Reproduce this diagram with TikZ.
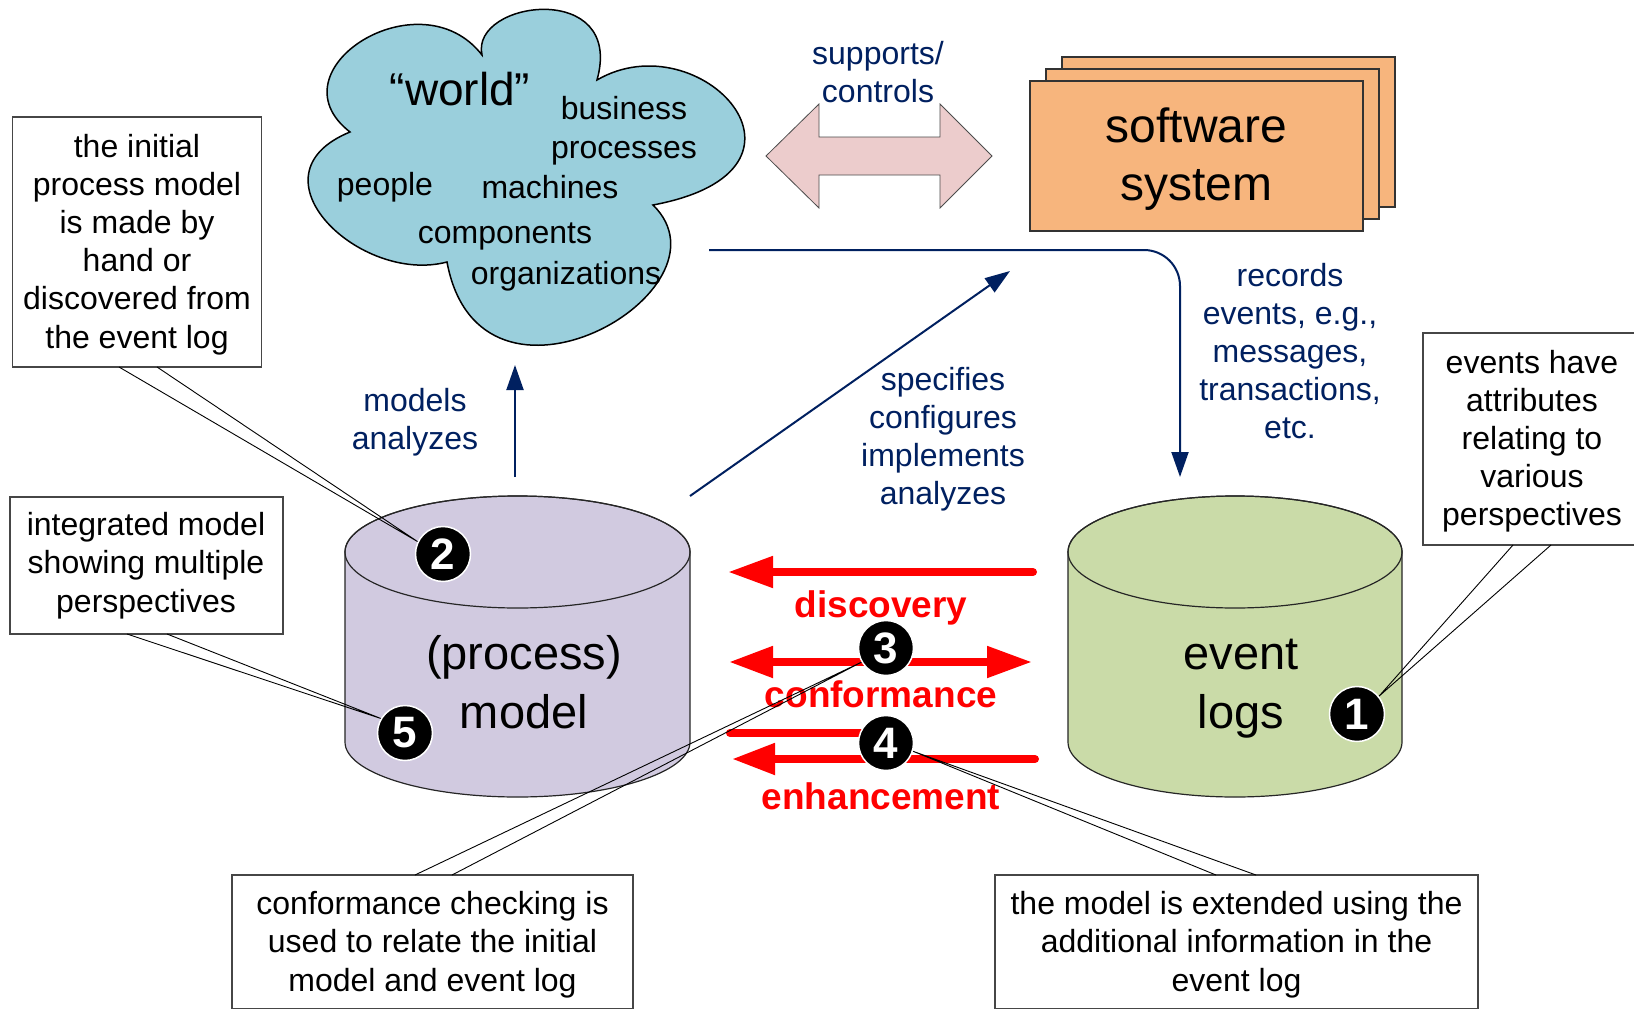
\documentclass[tikz,border=0pt]{standalone}
\usepackage{fontspec}
\setmainfont{Liberation Sans}
\usetikzlibrary{arrows.meta,calc}
\pgfdeclarelayer{front}
\pgfsetlayers{main,front}
\definecolor{navy}{RGB}{0,32,96}
\definecolor{cloudblue}{RGB}{154,207,220}
\definecolor{swo}{RGB}{247,181,125}
\definecolor{pinkarr}{RGB}{236,204,204}
\definecolor{purp}{RGB}{209,202,224}
\definecolor{grn}{RGB}{202,219,168}
\definecolor{bordergray}{RGB}{70,70,70}
\tikzset{
  callout/.style={draw=bordergray, line width=1.2pt, fill=white, align=center, inner sep=0pt, font=\fontsize{32}{38.4}\selectfont},
  navylbl/.style={text=navy, align=center, inner sep=0pt, font=\fontsize{32}{38}\selectfont},
  cloudword/.style={inner sep=0pt, anchor=base, font=\fontsize{32}{38}\selectfont},
  redlbl/.style={text=red, inner sep=0pt, anchor=base, font=\bfseries\fontsize{37}{44}\selectfont},
  badge/.style={circle, fill=black, draw=white, line width=1.5pt, minimum size=55pt, inner sep=0pt, text=white, font=\bfseries\fontsize{44}{44}\selectfont},
  navyarrow/.style={draw=navy, line width=2pt, -{Triangle[length=25pt,width=17pt]}},
  redline/.style={draw=red, line width=8pt, line cap=round},
  tail/.style={draw=black, line width=0.9pt},
  cylline/.style={draw=black!85, line width=1.2pt},
  swbox/.style={draw=black!80, line width=1.2pt, fill=swo, minimum width=333pt, minimum height=150pt, inner sep=0pt},
  cyltext/.style={align=center, inner sep=0pt, font=\fontsize{47}{59}\selectfont},
}
\begin{document}
\begin{tikzpicture}[x=1pt,y=-1pt]
\useasboundingbox[fill=white] (0,0) rectangle (1634,1009);

% ---------- cloud ----------
\draw[fill=cloudblue, draw=black, line width=1.5pt]
  (350,132) .. controls (270,70) and (420,-25) .. (482,55)
  .. controls (470,0) and (625,-20) .. (597,80)
  .. controls (700,20) and (840,170) .. (653,205)
  .. controls (740,290) and (480,440) .. (447,262)
  .. controls (360,285) and (245,175) .. (350,132) -- cycle;
\node[inner sep=0pt, anchor=base, font=\fontsize{46}{50}\selectfont] (world) at (460,105) {“world”};
\node[cloudword] (business) at (624,119) {business};
\node[cloudword] (processes) at (624,158) {processes};
\node[cloudword] (people) at (385,195) {people};
\node[cloudword] (machines) at (550,198) {machines};
\node[cloudword] (components) at (505,243) {components};
\node[cloudword] (organizations) at (566,284) {organizations};

% ---------- supports/controls double arrow ----------
\draw[fill=pinkarr, draw=black!70, line width=0.8pt]
  (766,156) -- (819,104) -- (819,137) -- (940,137) -- (940,104) -- (992,156)
  -- (940,208) -- (940,175) -- (819,175) -- (819,208) -- cycle;
\node[navylbl] (supports) at (878,76) {\strut supports/\\controls\strut};

% ---------- software system ----------
\node[swbox] (swback) at (1228.5,132) {};
\node[swbox] (swmid) at (1212.5,144) {};
\node[swbox, align=center, font=\fontsize{48}{58}\selectfont] (sw) at (1196.5,156) {};
\node[align=center, inner sep=0pt, font=\fontsize{48}{58}\selectfont] (swtext) at (1196.5,160) {\strut software\\system\strut};

% ---------- cylinders ----------
\path[fill=purp, cylline] (345,552) -- (345,742)
  arc[start angle=180, end angle=360, x radius=172.5pt, y radius=55pt]
  -- (690,552)
  arc[start angle=0, end angle=180, x radius=172.5pt, y radius=56pt] -- cycle;
\draw[cylline] (517.5,552) ellipse[x radius=172.5pt, y radius=56pt];
\node[cyltext] (pm) at (524,687) {\strut(process)\\model\strut};

\path[fill=grn, cylline] (1068,552) -- (1068,742)
  arc[start angle=180, end angle=360, x radius=167pt, y radius=55pt]
  -- (1402,552)
  arc[start angle=0, end angle=180, x radius=167pt, y radius=56pt] -- cycle;
\draw[cylline] (1235,552) ellipse[x radius=167pt, y radius=56pt];
\node[cyltext] (el) at (1241,687) {\strut event\\logs\strut};

% ---------- navy arrows ----------
\coordinate (upS) at (515,477);
\coordinate (upE) at (515,365);
\coordinate (diagS) at (690,496);
\coordinate (diagE) at (1010,271);
\coordinate (recS) at (709,250);
\coordinate (recC) at (1180,250);
\coordinate (recE) at (1180,477);
\draw[navyarrow] (upS) -- (upE);
\draw[navyarrow] (diagS) -- (diagE);
\draw[navyarrow, rounded corners=36pt] (recS) -- (recC) -- (recE);
\node[navylbl] (models) at (415,423) {\strut models\\analyzes\strut};
\node[navylbl] (specifies) at (943,440) {\strut specifies\\configures\\implements\\analyzes\strut};
\node[navylbl] (records) at (1290,355) {\strut records\\events, e.g.,\\messages,\\transactions,\\etc.\strut};

% ---------- red arrows ----------
\coordinate (discR) at (1033,572);
\coordinate (discL) at (728,572);
\coordinate (confL) at (729,662);
\coordinate (confR) at (1032,662);
\coordinate (enhA) at (730,733);
\coordinate (enhB) at (880,733);
\coordinate (enhR) at (1035,759);
\coordinate (enhL) at (732,759);
\draw[redline, -{Triangle[length=45pt,width=30pt]}] (discR) -- (discL);
\draw[redline, {Triangle[length=44pt,width=30pt]}-{Triangle[length=45pt,width=30pt]}] (confL) -- (confR);
\draw[redline] (enhA) -- (enhB);
\draw[redline, -{Triangle[length=43pt,width=30pt]}] (enhR) -- (enhL);
\node[redlbl] (discovery) at (881,617) {discovery};
\node[redlbl] (conformance) at (881,707) {conformance};
\node[redlbl] (enhancement) at (881,809) {enhancement};

% ---------- callouts ----------
\node[callout, minimum width=249pt, minimum height=250pt] (cA) at (137,242) {};
\node[align=center, inner sep=0pt, font=\fontsize{32}{38.2}\selectfont] (cAtext) at (137,245)
  {\strut the initial\\process model\\is made by\\hand or\\discovered from\\the event log\strut};
\node[callout, minimum width=273pt, minimum height=137pt] (cB) at (146.5,565.5) {};
\node[align=center, inner sep=0pt, font=\fontsize{32}{38.5}\selectfont] (cBtext) at (146,566)
  {\strut integrated model\\showing multiple\\perspectives\strut};
\node[callout, minimum width=218pt, minimum height=212pt] (cC) at (1532,439) {};
\node[align=center, inner sep=0pt, font=\fontsize{32}{38}\selectfont] (cCtext) at (1532,442)
  {\strut events have\\attributes\\relating to\\various\\perspectives\strut};
\node[callout, minimum width=401pt, minimum height=134pt] (cD) at (432.5,942) {};
\node[align=center, inner sep=0pt, font=\fontsize{32}{38.4}\selectfont] (cDtext) at (432.5,945)
  {\strut conformance checking is\\used to relate the initial\\model and event log\strut};
\node[callout, minimum width=483pt, minimum height=134pt] (cE) at (1236.5,942) {};
\node[align=center, inner sep=0pt, font=\fontsize{32}{38.4}\selectfont] (cEtext) at (1236.5,945)
  {\strut the model is extended using the\\additional information in the\\event log\strut};

% ---------- badges (front layer) ----------
\begin{pgfonlayer}{front}
\node[badge] (b1) at (1357,714) {1};
\node[badge] (b2) at (443,554) {2};
\node[badge] (b3) at (886,648) {3};
\node[badge] (b4) at (886,743) {4};
\node[badge] (b5) at (405,733) {5};
\end{pgfonlayer}

% ---------- callout tails ----------
\coordinate (tA1) at (119,367);
\coordinate (tA2) at (157,367);
\coordinate (tB1) at (127,634);
\coordinate (tB2) at (167,634);
\coordinate (tC1) at (1513,545);
\coordinate (tC2) at (1551,545);
\coordinate (tD1) at (415,875);
\coordinate (tD2) at (452,875);
\coordinate (tE1) at (1216,875);
\coordinate (tE2) at (1256,875);
\draw[tail] (tA1) -- (b2.154) -- (tA2);
\draw[tail] (tB1) -- (b5.149) -- (tB2);
\draw[tail] (tC1) -- (b1.39) -- (tC2);
\draw[tail] (tD1) -- (b3.210) -- (tD2);
\draw[tail] (tE1) -- (b4.343) -- (tE2);
\end{tikzpicture}
\end{document}
